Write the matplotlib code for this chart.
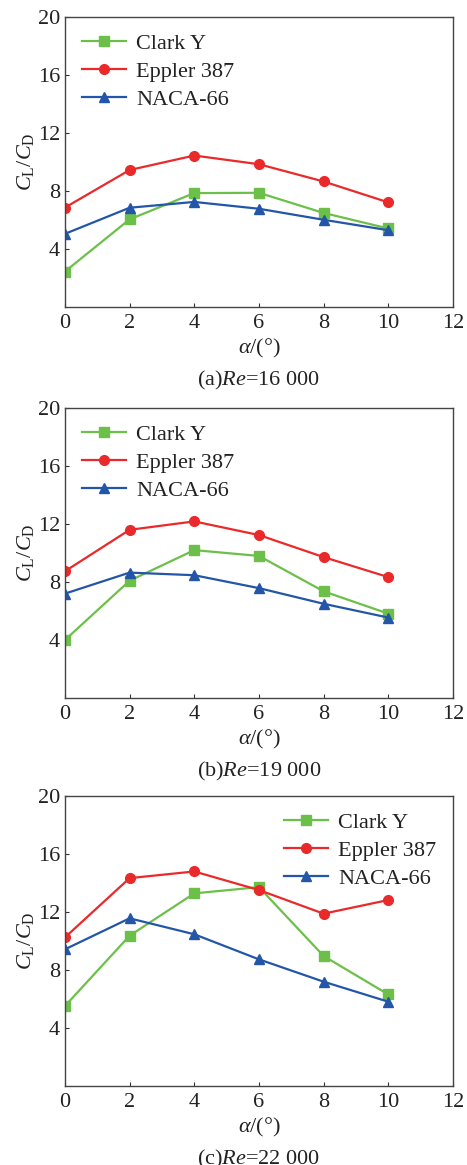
import matplotlib
matplotlib.use("Agg")
import matplotlib.pyplot as plt

plt.rcParams["font.family"] = ["Liberation Serif", "DejaVu Serif"]
plt.rcParams["mathtext.fontset"] = "custom"
plt.rcParams["mathtext.rm"] = "Liberation Serif"
plt.rcParams["mathtext.it"] = "Liberation Serif:italic"

alpha = [0, 2, 4, 6, 8, 10]
names = ["Clark Y", "Eppler 387", "NACA-66"]
colors = ["#6cc04a", "#ea2a2a", "#2356a8"]
markers = ["s", "o", "^"]

# (a) Re=16 000
clark_a = [2.45, 6.05, 7.86, 7.88, 6.49, 5.42]
eppler_a = [6.86, 9.45, 10.45, 9.85, 8.66, 7.22]
naca_a = [5.05, 6.85, 7.25, 6.78, 6.02, 5.3]
# (b) Re=19 000
clark_b = [4.0, 8.09, 10.2, 9.8, 7.36, 5.82]
eppler_b = [8.74, 11.6, 12.18, 11.24, 9.72, 8.34]
naca_b = [7.2, 8.65, 8.47, 7.58, 6.5, 5.55]
# (c) Re=22 000
clark_c = [5.52, 10.37, 13.29, 13.72, 8.97, 6.32]
eppler_c = [10.25, 14.34, 14.8, 13.52, 11.89, 12.83]
naca_c = [9.43, 11.57, 10.47, 8.74, 7.2, 5.82]

panels = [
    ("(a)", "16 000", [clark_a, eppler_a, naca_a], "upper left"),
    ("(b)", "19 000", [clark_b, eppler_b, naca_b], "upper left"),
    ("(c)", "22 000", [clark_c, eppler_c, naca_c], "upper right"),
]
tops = [0.9854, 0.6498, 0.3167]
h = 0.249
fs = 16

fig = plt.figure(figsize=(4.67, 11.65), dpi=100)
for (tag, re, series, loc), top in zip(panels, tops):
    ax = fig.add_axes([0.139, top - h, 0.831, h])
    for ys, nm, c, m in zip(series, names, colors, markers):
        ax.plot(alpha, ys, color=c, marker=m, markersize=7, linewidth=1.6, label=nm)
    ax.set_xlim(0, 12)
    ax.set_ylim(0, 20)
    ax.set_xticks(range(0, 13, 2))
    ax.set_yticks([4, 8, 12, 16, 20])
    ax.tick_params(direction="in", length=3, labelsize=fs, colors="#333333",
                   labelcolor="#222222", width=0.8)
    ax.tick_params(axis="x", pad=5)
    for s in ax.spines.values():
        s.set_color("#444444")
        s.set_linewidth(1.0)
    ax.set_ylabel(r"$C_{\mathrm{L}}/C_{\mathrm{D}}$", fontsize=fs, labelpad=1, color="#222222")
    ax.set_xlabel(r"$\alpha$/(°)", fontsize=fs, labelpad=3, color="#222222")
    ax.legend(loc=loc, frameon=False, fontsize=fs, handlelength=2.0,
              labelspacing=0.33, handletextpad=0.45, borderaxespad=0.45,
              borderpad=0.3, labelcolor="#222222")
    ax.text(0.5, -0.212, tag + r"$\mathit{Re}$=" + re, transform=ax.transAxes,
            ha="center", va="top", fontsize=fs, color="#222222")

fig.savefig("out.png", dpi=100)
